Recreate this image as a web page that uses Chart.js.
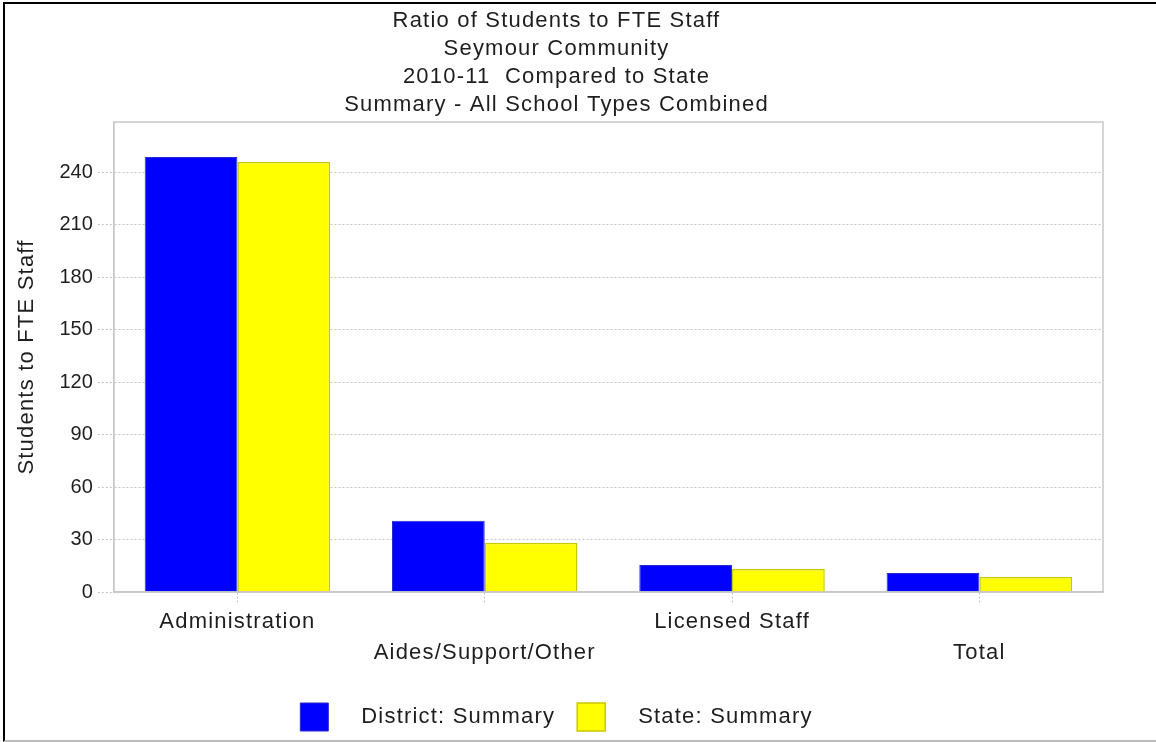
<!DOCTYPE html>
<html>
<head>
<meta charset="utf-8">
<script src="https://cdn.jsdelivr.net/npm/chart.js@4"></script>
<style>
  body { margin: 0; background: #fff; }
  #wrap { position: relative; width: 1156px; height: 742px; overflow: hidden; }
  #frame { position: absolute; left: 3px; top: 2px; width: 1160px; height: 736px;
           border-left: 2px solid #000; border-top: 2px solid #000; border-bottom: 2px solid #bbb; }
  canvas { position: absolute; left: 0; top: 0; }
</style>
</head>
<body>
<div id="wrap">
  <canvas id="ratio" width="1156" height="742"></canvas>
  <div id="frame"></div>
</div>
<script>
const categories = [
    ['Administration', ''],
    ['', 'Aides/Support/Other'],
    ['Licensed Staff', ''],
    ['', 'Total']
];
const districtValues = [248.6, 40.7, 15.5, 10.9];
const stateValues = [245.7, 28.1, 13.2, 8.6];
const titleLines = [
    'Ratio of Students to FTE Staff',
    'Seymour Community',
    '2010-11  Compared to State',
    'Summary - All School Types Combined'
];

const FONT = '"Liberation Sans", Arial, sans-serif';
const TEXT = '#1e1e1e';
const GRID = '#c4c4c4';

// light grey frame round the plot area
const plotBorder = {
    id: 'plotBorder',
    afterDraw(chart) {
        let a = chart.chartArea;
        let c = chart.ctx;
        c.save();
        c.strokeStyle = '#c8c8c8';
        c.lineWidth = 1.5;
        c.strokeRect(a.left, a.top, a.right - a.left, a.bottom - a.top);
        c.restore();
    }
};

let data = {
    labels: categories,
    datasets: [{
        label: '   District: Summary',
        data: districtValues,
        backgroundColor: '#0000ff',
        borderColor: '#2a2ad0',
        borderWidth: 1
    }, {
        label: '   State: Summary',
        data: stateValues,
        backgroundColor: '#ffff00',
        borderColor: '#c8c800',
        borderWidth: 1.5
    }]
};

let options = {
    responsive: false,
    animation: false,
    layout: { padding: { left: 10, right: 53, top: 0, bottom: 1 } },
    datasets: { bar: { categoryPercentage: 0.75, barPercentage: 1.0 } },
    plugins: {
        title: {
            display: true,
            text: titleLines,
            color: TEXT,
            font: { family: FONT, size: 22, weight: 'normal', lineHeight: 1.273 },
            padding: { top: 7, bottom: 3 }
        },
        legend: {
            position: 'bottom',
            labels: {
                color: TEXT,
                font: { family: FONT, size: 22 },
                boxWidth: 28,
                boxHeight: 28,
                padding: 22
            }
        },
        tooltip: { enabled: false }
    },
    scales: {
        x: {
            afterFit(scale) { scale.height += 11; },
            grid: {
                offset: false,
                drawOnChartArea: false,
                drawTicks: true,
                tickLength: 12,
                color: GRID,
                tickBorderDash: [2, 2]
            },
            border: { color: '#c8c8c8', width: 1.5 },
            ticks: {
                color: TEXT,
                font: { family: FONT, size: 22, lineHeight: 1.409 },
                maxRotation: 0,
                autoSkip: false,
                padding: 2
            }
        },
        y: {
            min: 0,
            max: 268.6,
            afterBuildTicks(scale) {
                scale.ticks = scale.ticks.filter(t => t.value % 30 === 0);
            },
            grid: {
                color: GRID,
                tickBorderDash: [2, 2],
                tickLength: 16
            },
            border: { color: '#c8c8c8', width: 1.5, dash: [2, 2] },
            ticks: {
                stepSize: 30,
                color: TEXT,
                font: { family: FONT, size: 20 },
                padding: 5
            },
            title: {
                display: true,
                text: 'Students to FTE Staff',
                color: TEXT,
                font: { family: FONT, size: 22 },
                padding: { top: 4, bottom: 14 }
            }
        }
    }
};

let ctx = document.getElementById('ratio').getContext('2d');

// the reference text is set wider than Liberation Sans; widen words, leave numbers alone
const rawFill = CanvasRenderingContext2D.prototype.fillText;
const rawMeasure = CanvasRenderingContext2D.prototype.measureText;
function spacingFor(t) { return /[A-Za-z]/.test(String(t)) ? '1.2px' : '0px'; }
ctx.fillText = function(t, x, y, w) {
    this.letterSpacing = spacingFor(t);
    return w === undefined ? rawFill.call(this, t, x, y) : rawFill.call(this, t, x, y, w);
};
ctx.measureText = function(t) {
    this.letterSpacing = spacingFor(t);
    return rawMeasure.call(this, t);
};

let ratioChart = new Chart(ctx, {
    type: 'bar',
    data: data,
    options: options,
    plugins: [plotBorder]
});
</script>
</body>
</html>
